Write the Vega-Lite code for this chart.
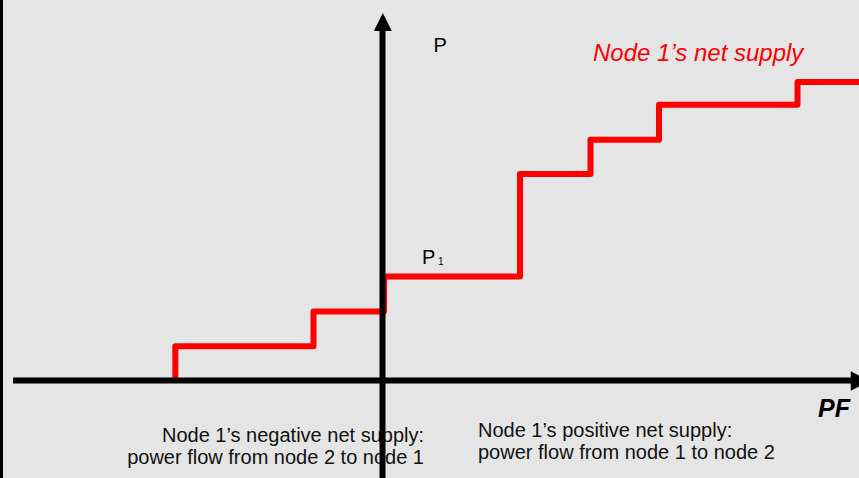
{
  "$schema": "https://vega.github.io/schema/vega-lite/v6.json",
  "width": 859,
  "height": 478,
  "autosize": {"type": "none"},
  "padding": 0,
  "background": "#e5e5e5",
  "config": {"view": {"stroke": null}, "font": "Liberation Sans"},
  "datasets": {
    "supply": [
      {"pf": -206.7, "p": 0},
      {"pf": -206.7, "p": 34.3},
      {"pf": -68.5, "p": 69},
      {"pf": 2, "p": 104},
      {"pf": 138, "p": 206.5},
      {"pf": 208.5, "p": 240.7},
      {"pf": 277, "p": 275.7},
      {"pf": 415.5, "p": 298.5},
      {"pf": 480, "p": 298.5}
    ],
    "vaxis": [{"pf": 0.5, "p": -97.5, "p2": 349.5}],
    "haxis": [{"pf": -369, "pf2": 470, "p": 0}],
    "border": [{"pf": -380.5, "p": -97.5, "p2": 380.5}],
    "uparrow": [{"pf": 0.8, "p": 358.5}],
    "rightarrow": [{"pf": 478.5, "p": -0.5}],
    "plabels": [
      {"label": "P", "pf": 51.5, "p": 328.5},
      {"label": "P", "pf": 40, "p": 116.5}
    ],
    "sub": [{"label": "1", "pf": 56, "p": 115.5}],
    "title": [{"label": "Node 1’s net supply", "pf": 211, "p": 319.5}],
    "pfl": [{"label": "PF", "pf": 436, "p": -36}],
    "leftnote": [
      {"label": "Node 1’s negative net supply:", "pf": 42, "p": -61.5},
      {"label": "power flow from node 2 to node 1", "pf": 42, "p": -83.5}
    ],
    "rightnote": [
      {"label": "Node 1’s positive net supply:", "pf": 96, "p": -56.5},
      {"label": "power flow from node 1 to node 2", "pf": 96, "p": -78.5}
    ]
  },
  "encoding": {
    "x": {"field": "pf", "type": "quantitative", "scale": {"domain": [-382, 477], "nice": false, "zero": false}, "axis": null},
    "y": {"field": "p", "type": "quantitative", "scale": {"domain": [-97.5, 380.5], "nice": false, "zero": false}, "axis": null}
  },
  "layer": [
    {
      "data": {"name": "supply"},
      "mark": {"type": "line", "color": "#ff0000", "strokeWidth": 6, "interpolate": "step-after", "strokeJoin": "round"},
      "encoding": {}
    },
    {
      "data": {"name": "plabels"},
      "mark": {"type": "text", "fontSize": 20, "color": "#000000", "align": "left", "baseline": "alphabetic"},
      "encoding": {"text": {"field": "label"}}
    },
    {
      "data": {"name": "sub"},
      "mark": {"type": "text", "fontSize": 10, "color": "#000000", "align": "left", "baseline": "alphabetic"},
      "encoding": {"text": {"field": "label"}}
    },
    {
      "data": {"name": "title"},
      "mark": {"type": "text", "fontSize": 24, "fontStyle": "italic", "color": "#ff0000", "align": "left", "baseline": "alphabetic"},
      "encoding": {"text": {"field": "label"}}
    },
    {
      "data": {"name": "pfl"},
      "mark": {"type": "text", "fontSize": 25, "fontStyle": "italic", "fontWeight": "bold", "color": "#000000", "align": "left", "baseline": "alphabetic"},
      "encoding": {"text": {"field": "label"}}
    },
    {
      "data": {"name": "leftnote"},
      "mark": {"type": "text", "fontSize": 20, "color": "#111111", "align": "right", "baseline": "alphabetic"},
      "encoding": {"text": {"field": "label"}}
    },
    {
      "data": {"name": "rightnote"},
      "mark": {"type": "text", "fontSize": 20, "color": "#111111", "align": "left", "baseline": "alphabetic"},
      "encoding": {"text": {"field": "label"}}
    },
    {
      "data": {"name": "vaxis"},
      "mark": {"type": "rule", "color": "#000000", "strokeWidth": 6},
      "encoding": {"y2": {"field": "p2"}}
    },
    {
      "data": {"name": "haxis"},
      "mark": {"type": "rule", "color": "#000000", "strokeWidth": 6},
      "encoding": {"x2": {"field": "pf2"}}
    },
    {
      "data": {"name": "border"},
      "mark": {"type": "rule", "color": "#000000", "strokeWidth": 3},
      "encoding": {"y2": {"field": "p2"}}
    },
    {
      "data": {"name": "uparrow"},
      "mark": {"type": "point", "shape": "M0,-1L1,1L-1,1Z", "filled": true, "color": "#000000", "opacity": 1, "size": 324},
      "encoding": {}
    },
    {
      "data": {"name": "rightarrow"},
      "mark": {"type": "point", "shape": "M1,0L-1,-1L-1,1Z", "filled": true, "color": "#000000", "opacity": 1, "size": 380},
      "encoding": {}
    }
  ]
}
